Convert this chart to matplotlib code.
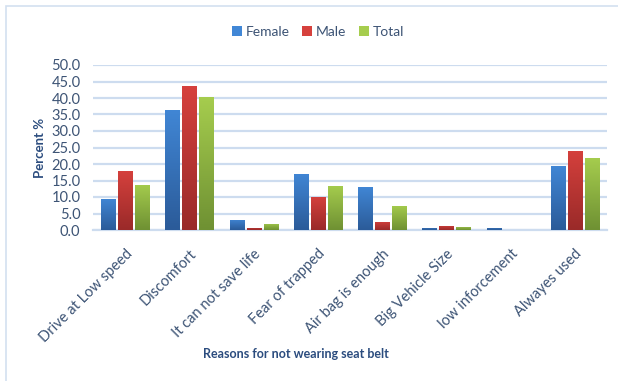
import matplotlib
matplotlib.use('Agg')
import matplotlib.pyplot as plt
from matplotlib.patches import Rectangle
from matplotlib.colors import LinearSegmentedColormap
import numpy as np

plt.rcParams['font.family'] = ['Lato', 'DejaVu Sans']

categories = ['Drive at Low speed', 'Discomfort', 'It can not save life', 'Fear of trapped',
              'Air bag is enough', 'Big Vehicle Size', 'low inforcement', 'Alwayes used']
female = [9.3, 36.4, 3.0, 17.0, 12.9, 0.7, 0.7, 19.3]
male = [17.8, 43.6, 0.7, 10.0, 2.4, 1.2, 0.0, 24.0]
total = [13.7, 40.3, 1.8, 13.2, 7.2, 0.9, 0.0, 21.7]
series = ['Female', 'Male', 'Total']

# top / bottom colours of the gradient fill
shades = {
    'Female': ('#4187d6', '#2b5b99'),
    'Male': ('#d6413d', '#9a2a29'),
    'Total': ('#a6cd4e', '#6f9133'),
}
TEXT = '#3d5475'
TITLE = '#2b4c7e'
GRID = '#cddcef'

fig = plt.figure(figsize=(6.18, 3.81), dpi=100)
fig.patches.append(Rectangle((6 / 618, -0.1), 1.2, 1 - 6 / 381 + 0.1, transform=fig.transFigure,
                             fill=False, edgecolor='#d3e0f0', linewidth=1.2))
ax = fig.add_axes([93 / 618, 1 - 230 / 381, 514 / 618, 165 / 381])

x = np.arange(len(categories))
width = 0.22
step = 0.265
values = [female, male, total]
grad = np.linspace(0, 1, 64).reshape(-1, 1)
for k, (name, vals) in enumerate(zip(series, values)):
    top, bottom = shades[name]
    cmap = LinearSegmentedColormap.from_list(name, [bottom, top])
    bars = ax.bar(x + (k - 1) * step, vals, width, color='none', edgecolor='none', zorder=3)
    for b, v in zip(bars, vals):
        if v <= 0:
            continue
        left = b.get_x()
        im = ax.imshow(grad, cmap=cmap, origin='lower', aspect='auto', interpolation='bilinear',
                       extent=(left - 0.05, left + width + 0.05, 0, v + 0.5), zorder=3)
        im.set_clip_path(b)
    ax.bar([0], [0], color=top, label=name)

ax.set_xlim(-0.5, len(categories) - 0.5)
ax.set_ylim(0, 50)
yt = np.arange(0, 50.1, 5)
ax.set_yticks(yt)
ax.set_yticklabels([f'{t:.1f}' for t in yt])
ax.yaxis.grid(True, color=GRID, linewidth=1.6, zorder=0)
ax.set_axisbelow(True)
for s in ['top', 'right', 'left']:
    ax.spines[s].set_visible(False)
ax.spines['bottom'].set_color(GRID)
ax.spines['bottom'].set_linewidth(1.6)
ax.tick_params(axis='both', length=0, colors=TEXT, labelsize=10.5)
ax.tick_params(axis='y', pad=9)
ax.set_xticks(x)
ax.set_xticklabels(categories, rotation=45, ha='right', rotation_mode='anchor')
ax.tick_params(axis='x', pad=12)

ax.set_ylabel('Percent %', color=TITLE, fontsize=9.5, fontweight='bold', labelpad=4)
fig.text(296 / 618, 1 - 354 / 381, 'Reasons for not wearing seat belt', ha='center', va='center',
         color=TITLE, fontsize=9, fontweight='bold')

leg = fig.legend(loc='center', bbox_to_anchor=(318 / 618, 1 - 32 / 381), ncol=3, frameon=False,
                 fontsize=10, handlelength=0.7, handleheight=0.7, handletextpad=0.3,
                 columnspacing=0.9)
for t in leg.get_texts():
    t.set_color(TEXT)

fig.savefig('out.png', dpi=100)
